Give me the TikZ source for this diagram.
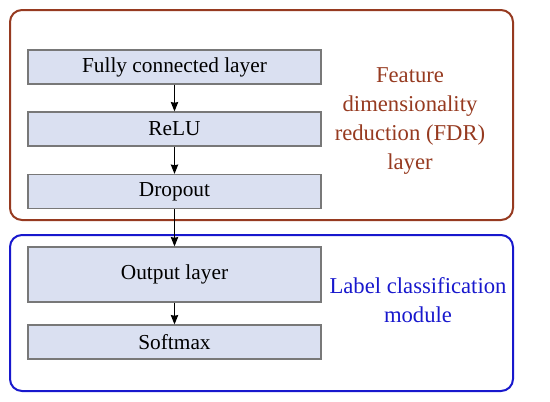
\documentclass[tikz,border=0pt]{standalone}
\usepackage{fontspec}
\setmainfont{Liberation Serif}
\usetikzlibrary{arrows.meta}
\definecolor{fdrred}{RGB}{150,58,32}
\definecolor{clsblue}{RGB}{24,24,205}
\definecolor{boxfill}{RGB}{218,224,241}
\definecolor{boxline}{RGB}{120,120,120}
\tikzset{
  layerbox/.style={draw=boxline, fill=boxfill, line width=0.9pt,
    minimum width=219.75pt, minimum height=25.5pt, inner sep=0pt,
    font=\fontsize{16}{19}\selectfont},
  flow/.style={-{Stealth[length=7pt, width=5.5pt, inset=0.5pt]}, line width=1pt},
}

\begin{document}
\begin{tikzpicture}[x=0.75pt, y=-0.75pt]
  \useasboundingbox (0,0) rectangle (550,401);
  % module frames
  \draw[fdrred, line width=1.5pt, rounded corners=9pt] (10,10) rectangle (513,220);
  \draw[clsblue, line width=1.5pt, rounded corners=9pt] (10,235) rectangle (513,391);
  % layers
  \node[layerbox] (fc) at (174.5,67) {Fully connected layer};
  \node[layerbox] (relu) at (174.5,129) {ReLU};
  \node[layerbox] (drop) at (174.5,191.5) {Dropout};
  \node[layerbox, minimum height=41.25pt] (out) at (174.5,274.5) {Output layer};
  \node[layerbox] (soft) at (174.5,342) {Softmax};
  \draw[flow] (fc) -- (relu);
  \draw[flow] (relu) -- (drop);
  \draw[flow] (drop) -- (out);
  \draw[flow] (out) -- (soft);
  % module labels
  \node[text=fdrred, font=\fontsize{17}{21.75}\selectfont, align=center] (fdr) at (410,121)
    {Feature\\ dimensionality\\ reduction (FDR)\\ layer};
  \node[text=clsblue, font=\fontsize{17}{21.75}\selectfont, align=center] (cls) at (418,300)
    {Label classification\\ module};
\end{tikzpicture}
\end{document}
